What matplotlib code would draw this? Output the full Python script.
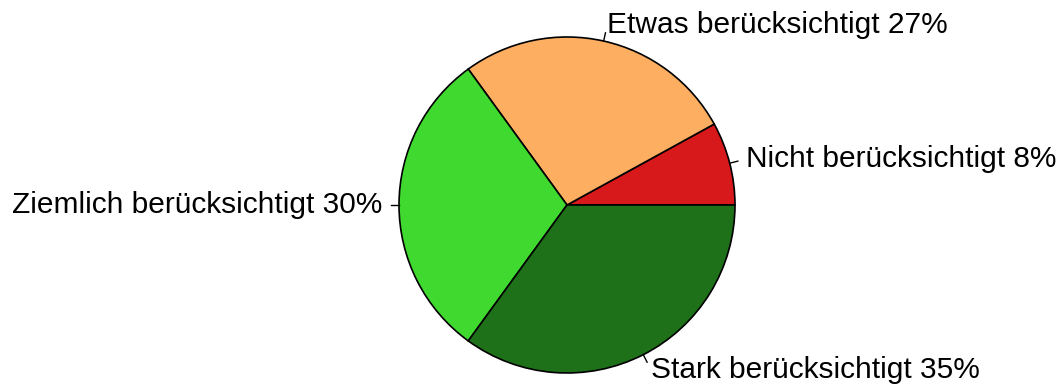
import matplotlib
matplotlib.use("Agg")
import matplotlib.pyplot as plt
import numpy as np

# Share of answers per category
labels = ["Nicht berücksichtigt", "Etwas berücksichtigt",
          "Ziemlich berücksichtigt", "Stark berücksichtigt"]
shares = [8, 27, 30, 35]
colors = ["#D7191C", "#FDAE61", "#3FD92F", "#1E7119"]

plt.rcParams["font.family"] = ["Liberation Sans", "DejaVu Sans"]

fig = plt.figure(figsize=(10.62, 3.87), dpi=100)
ax = fig.add_axes([0.3757, 0.0362, 0.3164, 0.8682])

wedges, _ = ax.pie(shares, colors=colors, startangle=0, counterclock=True,
                   radius=1.0,
                   wedgeprops=dict(edgecolor="black", linewidth=1.2))

# Short radial ticks with the label just beyond them
for w, lab, val in zip(wedges, labels, shares):
    mid = np.deg2rad((w.theta1 + w.theta2) / 2)
    c, s = np.cos(mid), np.sin(mid)
    ax.plot([c, 1.05 * c], [s, 1.05 * s], color="black", lw=1.0,
            clip_on=False)
    ha = "right" if c < -1e-9 else "left"
    ax.text(1.1 * c, 1.1 * s, f"{lab} {val}%", ha=ha, va="center",
            fontsize=21.5)

ax.set_xlim(-1, 1)
ax.set_ylim(-1, 1)
ax.set_aspect("equal")
ax.axis("off")

fig.savefig("out.png", dpi=100)
